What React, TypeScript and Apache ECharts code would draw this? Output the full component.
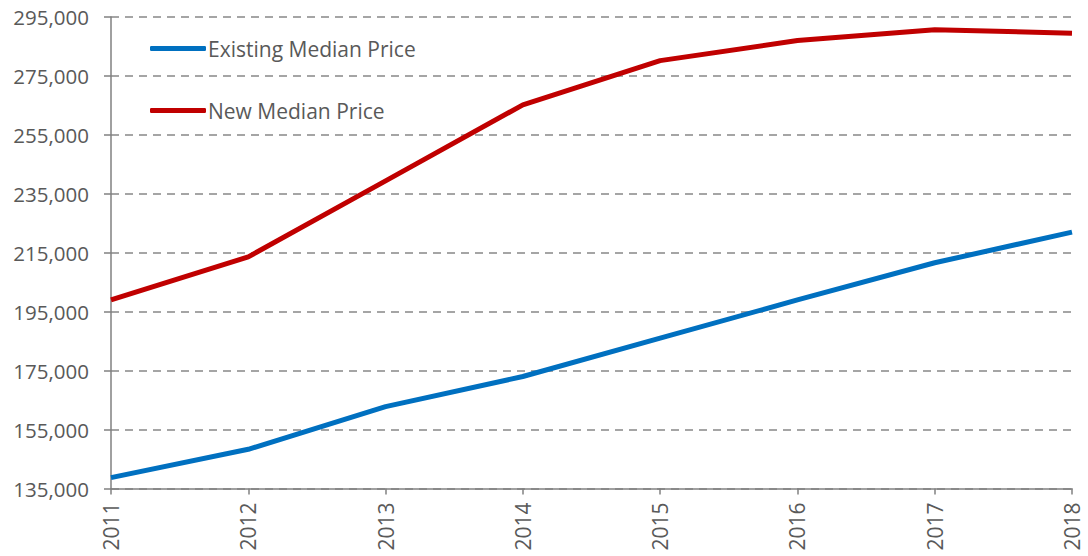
import React, { useEffect, useRef } from "react";
import * as echarts from "echarts";

const years = ["2011", "2012", "2013", "2014", "2015", "2016", "2017", "2018"];
const existingMedian = [138700, 148300, 162800, 173000, 186000, 199000, 211600, 222000];
const newMedian = [199000, 213600, 239400, 265200, 280200, 287000, 290700, 289500];
const seriesNames = ["Existing Median Price", "New Median Price"];
const seriesColors = ["#0070C0", "#C00000"];

export default function App() {
  const ref = useRef<HTMLDivElement>(null);
  useEffect(() => {
    const chart = echarts.init(ref.current!, null, { renderer: "svg" });
    const font = "'Open Sans', 'Liberation Sans', sans-serif";
    chart.setOption({
      animation: false,
      grid: { left: 111, right: 16, top: 17, bottom: 67.5, containLabel: false },
      legend: {
        orient: "vertical",
        left: 145,
        top: 33,
        itemWidth: 56,
        itemHeight: 5,
        itemGap: 41,
        icon: "roundRect",
        textStyle: { fontFamily: font, fontSize: 21, lineHeight: 21, color: "#595959", padding: [0, 0, 0, -3] },
        data: seriesNames,
      },
      xAxis: {
        type: "category",
        data: years,
        boundaryGap: false,
        axisLine: { lineStyle: { color: "#808080", width: 1.5 } },
        axisTick: { show: true, length: 6, lineStyle: { color: "#808080", width: 1.5 } },
        axisLabel: { rotate: 90, fontFamily: font, fontSize: 21, color: "#595959", margin: 14 },
        splitLine: { show: false },
      },
      yAxis: {
        type: "value",
        min: 135000,
        max: 295000,
        interval: 20000,
        axisLine: { show: true, lineStyle: { color: "#808080", width: 1.5 } },
        axisTick: { show: true, length: 7, lineStyle: { color: "#808080", width: 1.5 } },
        axisLabel: {
          fontFamily: font,
          fontSize: 20.5,
          color: "#595959",
          margin: 22,
          formatter: (v: number) => v.toLocaleString("en-US"),
        },
        splitLine: { show: true, lineStyle: { color: "#888888", type: [8, 6], width: 1.5 } },
      },
      series: [
        {
          name: seriesNames[0],
          type: "line",
          data: existingMedian,
          showSymbol: false,
          lineStyle: { color: seriesColors[0], width: 5 },
          itemStyle: { color: seriesColors[0] },
        },
        {
          name: seriesNames[1],
          type: "line",
          data: newMedian,
          showSymbol: false,
          lineStyle: { color: seriesColors[1], width: 5 },
          itemStyle: { color: seriesColors[1] },
        },
      ],
    });
    return () => chart.dispose();
  }, []);
  return <div ref={ref} style={{ width: 1088, height: 556, position: "absolute", left: 0, top: 0 }} />;
}
